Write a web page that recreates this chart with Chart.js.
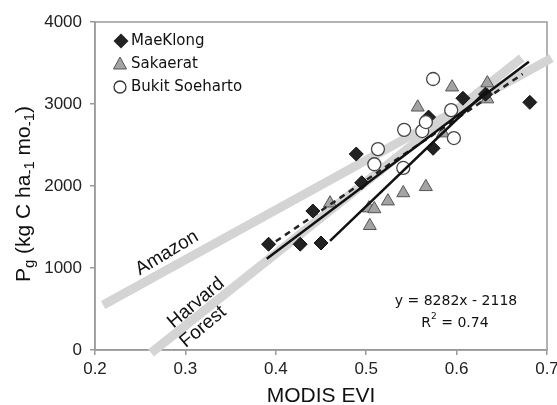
<!DOCTYPE html>
<html>
<head>
<meta charset="utf-8">
<script src="https://cdn.jsdelivr.net/npm/chart.js@4"></script>
<style>
  html, body { margin: 0; padding: 0; background: #fff; }
  canvas { display: block; }
</style>
</head>
<body>
<canvas id="chart" width="557" height="405"></canvas>
<script>
// 观测点
const maeKlongX = [0.392, 0.427, 0.450, 0.441, 0.489, 0.495, 0.574, 0.569, 0.607, 0.632, 0.681];
const maeKlongY = [1290, 1290, 1305, 1695, 2390, 2040, 2460, 2840, 3070, 3120, 3020];

const sakaeratX = [0.460, 0.503, 0.504, 0.509, 0.524, 0.541, 0.566, 0.557, 0.585, 0.595, 0.634, 0.634];
const sakaeratY = [1790, 1730, 1515, 1720, 1815, 1915, 1990, 2960, 2645, 3205, 3255, 3060];

const bukitX = [0.509, 0.513, 0.541, 0.542, 0.562, 0.566, 0.574, 0.594, 0.597];
const bukitY = [2265, 2450, 2220, 2685, 2670, 2780, 3305, 2925, 2585];

// 线 (端点)
const fitX = [0.39, 0.68];          // y = 8282x - 2118
const fitY = [1112, 3514];
const shortX = [0.46, 0.635];
const shortY = [1330, 3180];
const dashX = [0.39, 0.673];
const dashY = [1250, 3366];
const amazonX = [0.209, 0.705];
const amazonY = [549, 3560];
const harvardX = [0.262, 0.672];
const harvardY = [-35, 3560];

const xTicks = [0.2, 0.3, 0.4, 0.5, 0.6, 0.7];
const yTicks = [0, 1000, 2000, 3000, 4000];

const pts = (xs, ys) => xs.map((x, i) => ({ x: x, y: ys[i] }));

function line(label, xs, ys, color, width, extra) {
  return Object.assign({
    label: label,
    data: pts(xs, ys),
    showLine: true,
    pointRadius: 0,
    borderColor: color,
    borderWidth: width,
    fill: false
  }, extra || {});
}

// 图框
const frame = {
  id: 'frame',
  beforeDatasetsDraw(chart) {
    const { ctx, chartArea: a } = chart;
    ctx.save();
    ctx.strokeStyle = '#9a9a9a';
    ctx.lineWidth = 1.5;
    ctx.strokeRect(a.left, a.top, a.right - a.left, a.bottom - a.top);
    ctx.restore();
  }
};

// 文字: 图例, 方程, 标注, y 轴标题
const labels = {
  id: 'labels',
  afterDraw(chart) {
    const ctx = chart.ctx;
    ctx.save();
    ctx.fillStyle = '#111';

    // legend
    ctx.font = '15px "DejaVu Sans"';
    ctx.textBaseline = 'middle';
    ctx.textAlign = 'left';
    const lx = 121, ly = [41, 64, 87];
    // diamond
    ctx.beginPath();
    ctx.moveTo(lx, ly[0] - 7.5); ctx.lineTo(lx + 7.5, ly[0]);
    ctx.lineTo(lx, ly[0] + 7.5); ctx.lineTo(lx - 7.5, ly[0]);
    ctx.closePath();
    ctx.fillStyle = '#222'; ctx.fill();
    // triangle
    ctx.beginPath();
    ctx.moveTo(lx - 1, ly[1] - 7); ctx.lineTo(lx + 5.5, ly[1] + 5); ctx.lineTo(lx - 7.5, ly[1] + 5);
    ctx.closePath();
    ctx.fillStyle = '#a3a3a3'; ctx.fill();
    ctx.strokeStyle = '#555'; ctx.lineWidth = 1; ctx.stroke();
    // circle
    ctx.beginPath();
    ctx.arc(lx - 1, ly[2], 6, 0, Math.PI * 2);
    ctx.fillStyle = '#fff'; ctx.fill();
    ctx.strokeStyle = '#333'; ctx.lineWidth = 1.3; ctx.stroke();

    ctx.fillStyle = '#111';
    ctx.fillText('MaeKlong', 131, ly[0]);
    ctx.fillText('Sakaerat', 131, ly[1]);
    ctx.fillText('Bukit Soeharto', 131, ly[2]);

    // equation
    ctx.font = '14px "DejaVu Sans"';
    ctx.textAlign = 'center';
    ctx.fillText('y = 8282x - 2118', 456, 301);
    const rA = 'R', rB = ' = 0.74';
    const wA = ctx.measureText(rA).width, wB = ctx.measureText(rB).width;
    ctx.font = '9px "DejaVu Sans"';
    const wS = ctx.measureText('2').width;
    let sx = 455 - (wA + wS + wB) / 2;
    ctx.textAlign = 'left';
    ctx.font = '14px "DejaVu Sans"';
    ctx.fillText(rA, sx, 323);
    ctx.font = '9px "DejaVu Sans"';
    ctx.fillText('2', sx + wA, 317);
    ctx.font = '14px "DejaVu Sans"';
    ctx.fillText(rB, sx + wA + wS, 323);

    // rotated labels
    ctx.textAlign = 'center';
    ctx.font = '19px "Liberation Sans"';
    const rot = (t, x, y, deg) => {
      ctx.save();
      ctx.translate(x, y);
      ctx.rotate(-deg * Math.PI / 180);
      ctx.fillText(t, 0, 0);
      ctx.restore();
    };
    rot('Amazon', 167, 253, 31);
    rot('Harvard', 196, 303, 40);
    rot('Forest', 203, 327, 40);

    // y axis title with subscripts
    const parts = [
      ['P', false], ['g', true], [' (kg C ha', false], ['-1', true],
      [' mo', false], ['-1', true], [')', false]
    ];
    const big = '21px "Liberation Sans"', small = '15px "Liberation Sans"';
    let total = 0;
    parts.forEach(p => { ctx.font = p[1] ? small : big; total += ctx.measureText(p[0]).width; });
    ctx.save();
    ctx.translate(22, 194);
    ctx.rotate(-Math.PI / 2);
    ctx.textAlign = 'left';
    ctx.textBaseline = 'alphabetic';
    let px = -total / 2;
    parts.forEach(p => {
      ctx.font = p[1] ? small : big;
      ctx.fillText(p[0], px, p[1] ? 12 : 7.5);
      px += ctx.measureText(p[0]).width;
    });
    ctx.restore();

    ctx.restore();
  }
};

new Chart(document.getElementById('chart'), {
  type: 'scatter',
  data: {
    datasets: [
      { label: 'MaeKlong', data: pts(maeKlongX, maeKlongY), pointStyle: 'rectRot', pointRadius: 7,
        backgroundColor: '#222', borderColor: '#111', borderWidth: 1, order: 3 },
      { label: 'Sakaerat', data: pts(sakaeratX, sakaeratY), pointStyle: 'triangle', pointRadius: 7.5,
        backgroundColor: '#a3a3a3', borderColor: '#555', borderWidth: 1, order: 4 },
      { label: 'Bukit Soeharto', data: pts(bukitX, bukitY), pointStyle: 'circle', pointRadius: 6.5,
        backgroundColor: '#fff', borderColor: '#444', borderWidth: 1.3, order: 2 },
      line('Amazon', amazonX, amazonY, '#d4d4d4', 9, { clip: false, order: 10 }),
      line('Harvard Forest', harvardX, harvardY, '#d4d4d4', 9, { clip: false, order: 9 }),
      line('fit', fitX, fitY, '#111', 2.5, { order: 1 }),
      line('short', shortX, shortY, '#111', 2.5, { order: 1 }),
      line('dashed', dashX, dashY, '#222', 2.5, { borderDash: [6, 5], order: 1 })
    ]
  },
  options: {
    responsive: false,
    animation: false,
    events: [],
    layout: { padding: { top: 22, right: 10, left: 0, bottom: 0 } },
    plugins: { legend: { display: false }, tooltip: { enabled: false } },
    scales: {
      x: {
        type: 'linear', min: 0.2, max: 0.7,
        afterBuildTicks: s => { s.ticks = xTicks.map(v => ({ value: v })); },
        ticks: { font: { family: 'Liberation Sans', size: 17 }, color: '#222', padding: 4,
                 callback: v => v.toFixed(1) },
        grid: { drawOnChartArea: false, drawTicks: true, tickLength: 5, color: '#9a9a9a', lineWidth: 1.5 },
        border: { color: '#9a9a9a', width: 1.5 },
        title: { display: true, text: 'MODIS EVI', color: '#111', padding: 0,
                 font: { family: 'Liberation Sans', size: 21, lineHeight: 0.8 } },
        afterFit: s => { s.height = 55; s.paddingLeft = 0; s.paddingRight = 0; }
      },
      y: {
        type: 'linear', min: 0, max: 4000,
        afterBuildTicks: s => { s.ticks = yTicks.map(v => ({ value: v })); },
        ticks: { font: { family: 'Liberation Sans', size: 17 }, color: '#222', padding: 8,
                 callback: v => String(v) },
        grid: { drawOnChartArea: false, drawTicks: true, tickLength: 5, color: '#9a9a9a', lineWidth: 1.5 },
        border: { color: '#9a9a9a', width: 1.5 },
        afterFit: s => { s.width = 95; s.paddingTop = 0; s.paddingBottom = 0; }
      }
    }
  },
  plugins: [frame, labels]
});
</script>
</body>
</html>
